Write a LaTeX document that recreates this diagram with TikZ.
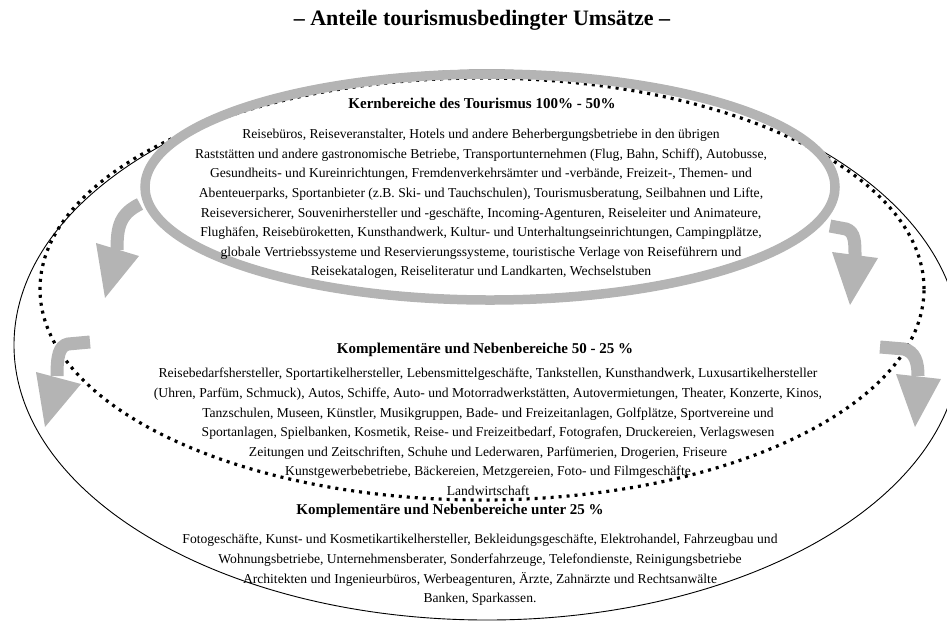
\documentclass[tikz,border=0pt]{standalone}
\usepackage{fontspec}
\setmainfont{Liberation Serif}
\definecolor{ringgray}{RGB}{180,180,180}
\begin{document}
\begin{tikzpicture}[x=1pt,y=-1pt,
  ring/.style={draw=ringgray, line width=9.5pt},
  dotring/.style={draw=black, line width=3.2pt, dash pattern=on 3pt off 5pt},
  outerring/.style={draw=black, line width=0.9pt},
  garrow/.style={draw=ringgray, line width=13pt},
  ghead/.style={fill=ringgray},
  titletext/.style={font=\bfseries\fontsize{22}{26}\selectfont},
  headtext/.style={font=\bfseries\fontsize{15}{18}\selectfont},
  bodytext/.style={font=\fontsize{13.6}{19.6}\selectfont, align=center}
]
\useasboundingbox (0,0) rectangle (947,625);
% rings
\draw[outerring] (487,345) ellipse [x radius=473pt, y radius=275pt];
\draw[dotring] (482,289) ellipse [x radius=442pt, y radius=211pt];
\draw[ring] (490,187) ellipse [x radius=345pt, y radius=113pt];
% gray arrows
\coordinate (a1s) at (140,204);
\coordinate (a1e) at (117,250);
\draw[garrow] (a1s) .. controls (120,214) and (117,226) .. (a1e);
\fill[ghead] (96,243) -- (139,256) -- (105,298) -- cycle;
\coordinate (a2s) at (90,342);
\coordinate (a2e) at (57,376);
\draw[garrow] (a2s) -- (68,344) .. controls (59,346) and (57,356) .. (a2e);
\fill[ghead] (36,372) -- (81,384) -- (45,427) -- cycle;
\coordinate (a3s) at (830,226);
\coordinate (a3e) at (855,256);
\draw[garrow] (a3s) -- (846,229) .. controls (855,232) and (855,242) .. (a3e);
\fill[ghead] (832,252) -- (878,258) -- (850,305) -- cycle;
\coordinate (a4s) at (880,347);
\coordinate (a4e) at (918,376);
\draw[garrow] (a4s) -- (904,349) .. controls (915,352) and (918,362) .. (a4e);
\fill[ghead] (896,374) -- (941,379) -- (915,427) -- cycle;
% texts
\node[titletext] (title) at (482,20) {– Anteile tourismusbedingter Umsätze –};
\node[headtext] (coreh) at (482,103) {Kernbereiche des Tourismus 100\% - 50\%};
\node[bodytext] (core) at (481,204) {Reisebüros, Reiseveranstalter, Hotels und andere Beherbergungsbetriebe in den übrigen\\
Raststätten und andere gastronomische Betriebe, Transportunternehmen (Flug, Bahn, Schiff), Autobusse,\\
Gesundheits- und Kureinrichtungen, Fremdenverkehrsämter und -verbände, Freizeit-, Themen- und\\
Abenteuerparks, Sportanbieter (z.B. Ski- und Tauchschulen), Tourismusberatung, Seilbahnen und Lifte,\\
Reiseversicherer, Souvenirhersteller und -geschäfte, Incoming-Agenturen, Reiseleiter und Animateure,\\
Flughäfen, Reisebüroketten, Kunsthandwerk, Kultur- und Unterhaltungseinrichtungen, Campingplätze,\\
globale Vertriebssysteme und Reservierungssysteme, touristische Verlage von Reiseführern und\\
Reisekatalogen, Reiseliteratur und Landkarten, Wechselstuben};
\node[headtext] (compa) at (485,350) {Komplementäre und Nebenbereiche 50 - 25 \%};
\node[bodytext] (compab) at (488,432) {Reisebedarfshersteller, Sportartikelhersteller, Lebensmittelgeschäfte, Tankstellen, Kunsthandwerk, Luxusartikelhersteller\\
(Uhren, Parfüm, Schmuck), Autos, Schiffe, Auto- und Motorradwerkstätten, Autovermietungen, Theater, Konzerte, Kinos,\\
Tanzschulen, Museen, Künstler, Musikgruppen, Bade- und Freizeitanlagen, Golfplätze, Sportvereine und\\
Sportanlagen, Spielbanken, Kosmetik, Reise- und Freizeitbedarf, Fotografen, Druckereien, Verlagswesen\\
Zeitungen und Zeitschriften, Schuhe und Lederwaren, Parfümerien, Drogerien, Friseure\\
Kunstgewerbebetriebe, Bäckereien, Metzgereien, Foto- und Filmgeschäfte\\
Landwirtschaft};
\node[headtext] (compb) at (450,511) {Komplementäre und Nebenbereiche unter 25 \%};
\node[bodytext] (compbb) at (480,570) {Fotogeschäfte, Kunst- und Kosmetikartikelhersteller, Bekleidungsgeschäfte, Elektrohandel, Fahrzeugbau und\\
Wohnungsbetriebe, Unternehmensberater, Sonderfahrzeuge, Telefondienste, Reinigungsbetriebe\\
Architekten und Ingenieurbüros, Werbeagenturen, Ärzte, Zahnärzte und Rechtsanwälte\\
Banken, Sparkassen.};
\end{tikzpicture}
\end{document}
